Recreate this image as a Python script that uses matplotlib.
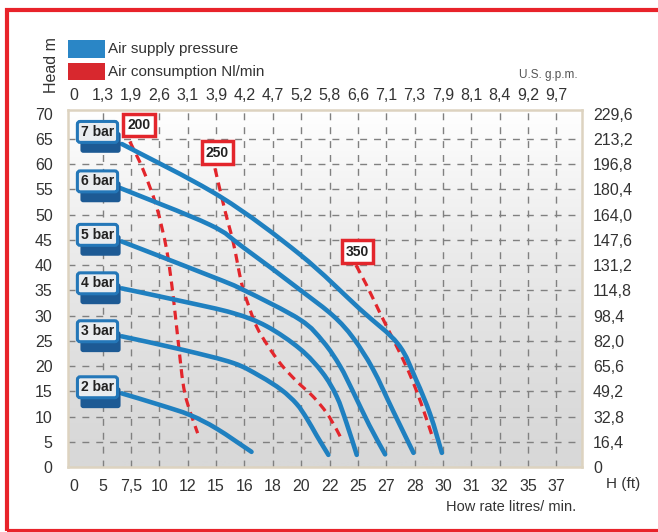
import numpy as np
import matplotlib
matplotlib.use("Agg")
import matplotlib.pyplot as plt
import matplotlib.patheffects as pe
from matplotlib.colors import LinearSegmentedColormap
from matplotlib.patches import Rectangle, PathPatch
from matplotlib.path import Path

plt.rcParams['font.family'] = ['Liberation Sans', 'DejaVu Sans']

# ---- data ----
flow_labels = ["0", "5", "7,5", "10", "12", "15", "16", "18", "20", "22", "25",
               "27", "28", "30", "31", "32", "35", "37"]
gpm_labels = ["0", "1,3", "1,9", "2,6", "3,1", "3,9", "4,2", "4,7", "5,2", "5,8",
              "6,6", "7,1", "7,3", "7,9", "8,1", "8,4", "9,2", "9,7"]
head_ticks = [0, 5, 10, 15, 20, 25, 30, 35, 40, 45, 50, 55, 60, 65, 70]
feet_labels = ["0", "16,4", "32,8", "49,2", "65,6", "82,0", "98,4", "114,8", "131,2",
               "147,6", "164,0", "180,4", "196,8", "213,2", "229,6"]

# pressure curves: x in flow-tick positions, y in head (m)
bar7_x = [1.68, 5.14, 7.96, 10.07, 11.41, 12.05, 12.55, 12.96]
bar7_y = [64.0, 53.6, 42.1, 31.3, 24.4, 17.3, 10.4, 2.8]
bar6_x = [1.61, 4.78, 5.94, 7.96, 9.12, 9.83, 10.53, 11.25, 11.96]
bar6_y = [55.3, 48.0, 43.6, 35.1, 30.0, 25.6, 19.4, 11.0, 2.8]
bar5_x = [1.67, 4.78, 5.96, 7.96, 8.78, 9.37, 9.84, 10.4, 10.96]
bar5_y = [44.7, 37.9, 35.1, 29.2, 24.8, 20.0, 14.8, 8.3, 2.5]
bar4_x = [1.67, 3.84, 5.6, 6.78, 7.96, 8.75, 9.25, 9.6, 9.96]
bar4_y = [35.4, 32.8, 30.5, 27.9, 23.4, 18.7, 14.0, 8.7, 2.4]
bar3_x = [1.67, 3.84, 5.61, 6.55, 7.3, 7.84, 8.2, 8.55, 8.96]
bar3_y = [25.9, 23.2, 20.6, 18.0, 15.3, 12.5, 9.6, 6.2, 2.4]
bar2_x = [1.67, 3.02, 4.08, 5.02, 6.25]
bar2_y = [14.6, 12.3, 10.3, 7.6, 3.0]
bar_names = ["7 bar", "6 bar", "5 bar", "4 bar", "3 bar", "2 bar"]
bar_label_y = [66.4, 56.6, 46.0, 36.4, 26.9, 15.8]

# air consumption curves (Nl/min)
c200_x = [1.96, 2.43, 2.9, 3.26, 3.49, 3.67, 3.9, 4.35]
c200_y = [64.5, 58.9, 51.6, 43.0, 33.8, 24.6, 14.6, 6.7]
c250_x = [4.96, 5.31, 5.61, 5.9, 6.14, 6.43, 6.84, 7.31, 7.84, 8.43, 8.9, 9.25, 9.43]
c250_y = [59.2, 50.9, 44.4, 36.4, 32.1, 27.8, 23.9, 20.2, 17.0, 13.9, 10.7, 7.4, 5.4]
c350_x = [9.93, 10.31, 10.78, 11.25, 11.6, 11.96, 12.31, 12.66]
c350_y = [40.0, 36.0, 30.5, 25.2, 21.2, 16.6, 11.3, 5.4]
cons_names = ["200", "250", "350"]
cons_label_pos = [(2.28, 67.8), (5.05, 62.3), (9.99, 42.7)]

BLUE = "#1f80c0"
RED = "#e3262c"
TXT = "#333333"


def smooth_path(xs, ys):
    """Catmull-Rom curve through the given points as a cubic Bezier Path."""
    p = np.column_stack([xs, ys]).astype(float)
    ext = np.vstack([p[0], p, p[-1]])
    verts = [p[0]]
    codes = [Path.MOVETO]
    for i in range(1, len(ext) - 2):
        p0, p1, p2, p3 = ext[i - 1], ext[i], ext[i + 1], ext[i + 2]
        c1 = p1 + (p2 - p0) / 6.0
        c2 = p2 - (p3 - p1) / 6.0
        verts += [c1, c2, p2]
        codes += [Path.CURVE4] * 3
    return Path(verts, codes)


fig = plt.figure(figsize=(6.58, 5.32), dpi=100)
ax = fig.add_axes([0.1033, 0.1222, 0.7812, 0.6711])
xlim = (-0.22, 17.9)
ylim = (0, 70.75)

# background gradient
grad = np.linspace(1, 0, 256).reshape(-1, 1) ** 1.4
cmap = LinearSegmentedColormap.from_list("bg", ["#d8d8d8", "#ffffff"])
ax.imshow(grad, extent=[xlim[0], xlim[1], ylim[0], ylim[1]], aspect="auto",
          cmap=cmap, vmin=0, vmax=1, zorder=0, origin="upper")
ax.set_xlim(*xlim)
ax.set_ylim(*ylim)

# grid
for i in range(1, len(flow_labels)):
    ax.axvline(i, color="#808080", lw=1.0, linestyle=(0, (5, 5)), zorder=1)
for h in head_ticks[1:-1]:
    ax.axhline(h, color="#808080", lw=1.0, linestyle=(0, (5, 5)), zorder=1)

# consumption lines
for xs, ys in [(c200_x, c200_y), (c250_x, c250_y), (c350_x, c350_y)]:
    ax.add_patch(PathPatch(smooth_path(xs, ys), fill=False, ec=RED, lw=2.3,
                           linestyle=(0, (2.8, 1.8)), capstyle="butt", zorder=3))

# pressure curves
for xs, ys in [(bar7_x, bar7_y), (bar6_x, bar6_y), (bar5_x, bar5_y),
               (bar4_x, bar4_y), (bar3_x, bar3_y), (bar2_x, bar2_y)]:
    ax.add_patch(PathPatch(smooth_path(xs, ys), fill=False, ec=BLUE, lw=3.3,
                           capstyle="round", joinstyle="round", zorder=4))

# bar labels with 3D look
for name, yv in zip(bar_names, bar_label_y):
    t = ax.text(0.82, yv, name, ha="center", va="center", fontsize=10,
                fontweight="bold", color="#222222", zorder=6,
                bbox=dict(boxstyle="round,pad=0.25,rounding_size=0.2", fc="#e9ecef",
                          ec="#2477b8", lw=2.2))
    t.get_bbox_patch().set_path_effects([
        pe.SimplePatchShadow(offset=(2.2, -7.5), shadow_rgbFace="#1d5a94", alpha=1.0),
        pe.Normal()])

for name, (xv, yv) in zip(cons_names, cons_label_pos):
    ax.text(xv, yv, name, ha="center", va="center", fontsize=10,
            fontweight="bold", color="#222222", zorder=6,
            bbox=dict(boxstyle="square,pad=0.3", fc="white", ec=RED, lw=2.5))

# axes styling
for sp in ax.spines.values():
    sp.set_color("#ddd3c0")
    sp.set_linewidth(1.8)
ax.set_xticks(range(len(flow_labels)))
ax.set_xticklabels(flow_labels)
ax.set_yticks(head_ticks)
ax.set_yticklabels([str(h) for h in head_ticks])
ax.tick_params(axis="both", length=0, labelsize=11.5, labelcolor=TXT)
ax.tick_params(axis="x", pad=9)
ax.tick_params(axis="y", pad=11)

ax_r = ax.twinx()
ax_r.set_ylim(*ylim)
ax_r.set_yticks(head_ticks)
ax_r.set_yticklabels(feet_labels)
ax_r.tick_params(axis="y", length=0, labelsize=11.5, labelcolor=TXT, pad=8)
for sp in ax_r.spines.values():
    sp.set_visible(False)

ax_t = ax.twiny()
ax_t.set_xlim(*xlim)
ax_t.set_xticks(range(len(gpm_labels)))
ax_t.set_xticklabels(gpm_labels)
ax_t.tick_params(axis="x", length=0, labelsize=11.5, labelcolor=TXT, pad=5)
for sp in ax_t.spines.values():
    sp.set_visible(False)

# legend
fig.patches.append(Rectangle((0.1033, 0.891), 0.0563, 0.034, transform=fig.transFigure,
                             fc="#2a86c6", ec="none"))
fig.patches.append(Rectangle((0.1033, 0.8496), 0.0563, 0.032, transform=fig.transFigure,
                             fc="#d8282e", ec="none"))
fig.text(0.1641, 0.907, "Air supply pressure", fontsize=11, color=TXT, va="center")
fig.text(0.1641, 0.8655, "Air consumption Nl/min", fontsize=11, color=TXT, va="center")

fig.text(0.0783, 0.8778, "Head m", rotation=90, fontsize=11.5, color=TXT,
         ha="center", va="center")
fig.text(0.8336, 0.859, "U.S. g.p.m.", fontsize=8.5, color="#555555",
         ha="center", va="center")
fig.text(0.9468, 0.0902, "H (ft)", fontsize=11, color=TXT, ha="center", va="center")
fig.text(0.7774, 0.047, "How rate litres/ min.", fontsize=10.5, color=TXT,
         ha="center", va="center")

# red frame
fig.patches.append(Rectangle((6.5 / 658, 1.5 / 532), 1.2, 521 / 532,
                             transform=fig.transFigure, fc="none", ec="#e8232a",
                             lw=3.0, clip_on=False))

fig.savefig("out.png", dpi=100)
